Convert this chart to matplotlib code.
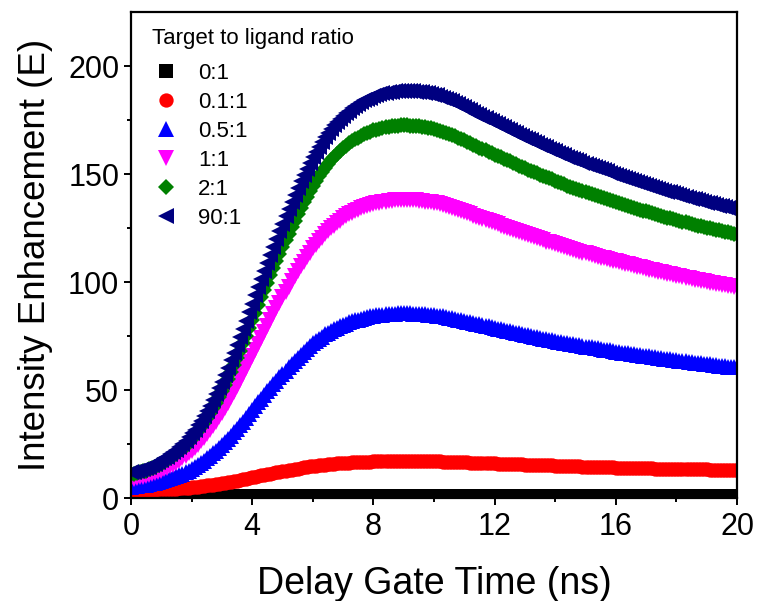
import numpy as np
import matplotlib
matplotlib.use("Agg")
import matplotlib.pyplot as plt

plt.rcParams['font.family'] = ['Liberation Sans', 'DejaVu Sans']

# delay gate times (ns), 0.1 ns steps
t = np.linspace(0, 20, 201)

e_0 = [
    1.0, 1.0, 1.0, 1.0, 1.0, 1.0, 1.0, 1.0, 1.0, 1.0,
    1.0, 1.0, 1.0, 1.0, 1.0, 1.0, 1.0, 1.0, 1.0, 1.0,
    1.0, 1.0, 1.0, 1.0, 1.0, 1.0, 1.0, 1.0, 1.0, 1.0,
    1.0, 1.0, 1.0, 1.0, 1.0, 1.0, 1.0, 1.0, 1.0, 1.0,
    1.0, 1.0, 1.0, 1.0, 1.0, 1.0, 1.0, 1.0, 1.0, 1.0,
    1.0, 1.0, 1.0, 1.0, 1.0, 1.0, 1.0, 1.0, 1.0, 1.0,
    1.0, 1.0, 1.0, 1.0, 1.0, 1.0, 1.0, 1.0, 1.0, 1.0,
    1.0, 1.0, 1.0, 1.0, 1.0, 1.0, 1.0, 1.0, 1.0, 1.0,
    1.0, 1.0, 1.0, 1.0, 1.0, 1.0, 1.0, 1.0, 1.0, 1.0,
    1.0, 1.0, 1.0, 1.0, 1.0, 1.0, 1.0, 1.0, 1.0, 1.0,
    1.0, 1.0, 1.0, 1.0, 1.0, 1.0, 1.0, 1.0, 1.0, 1.0,
    1.0, 1.0, 1.0, 1.0, 1.0, 1.0, 1.0, 1.0, 1.0, 1.0,
    1.0, 1.0, 1.0, 1.0, 1.0, 1.0, 1.0, 1.0, 1.0, 1.0,
    1.0, 1.0, 1.0, 1.0, 1.0, 1.0, 1.0, 1.0, 1.0, 1.0,
    1.0, 1.0, 1.0, 1.0, 1.0, 1.0, 1.0, 1.0, 1.0, 1.0,
    1.0, 1.0, 1.0, 1.0, 1.0, 1.0, 1.0, 1.0, 1.0, 1.0,
    1.0, 1.0, 1.0, 1.0, 1.0, 1.0, 1.0, 1.0, 1.0, 1.0,
    1.0, 1.0, 1.0, 1.0, 1.0, 1.0, 1.0, 1.0, 1.0, 1.0,
    1.0, 1.0, 1.0, 1.0, 1.0, 1.0, 1.0, 1.0, 1.0, 1.0,
    1.0, 1.0, 1.0, 1.0, 1.0, 1.0, 1.0, 1.0, 1.0, 1.0,
    1.0]

e_01 = [
    3.7, 3.75, 3.8, 3.8, 3.8, 3.85, 3.9, 3.95, 4.0, 4.05,
    4.1, 4.2, 4.3, 4.35, 4.4, 4.5, 4.6, 4.7, 4.8, 4.95,
    5.1, 5.25, 5.4, 5.55, 5.7, 5.9, 6.1, 6.3, 6.5, 6.7,
    6.9, 7.15, 7.4, 7.65, 7.9, 8.2, 8.5, 8.8, 9.1, 9.4,
    9.7, 10.0, 10.3, 10.55, 10.8, 11.1, 11.4, 11.7, 12.0, 12.25,
    12.5, 12.75, 13.0, 13.25, 13.5, 13.75, 14.0, 14.25, 14.5, 14.7,
    14.9, 15.05, 15.2, 15.4, 15.6, 15.7, 15.8, 15.95, 16.1, 16.2,
    16.3, 16.4, 16.5, 16.6, 16.7, 16.75, 16.8, 16.85, 16.9, 16.95,
    17.0, 17.05, 17.1, 17.1, 17.1, 17.15, 17.2, 17.2, 17.2, 17.2,
    17.2, 17.2, 17.2, 17.2, 17.2, 17.2, 17.2, 17.15, 17.1, 17.1,
    17.1, 17.05, 17.0, 16.95, 16.9, 16.85, 16.8, 16.75, 16.7, 16.65,
    16.6, 16.55, 16.5, 16.45, 16.4, 16.35, 16.3, 16.25, 16.2, 16.15,
    16.1, 16.05, 16.0, 15.95, 15.9, 15.85, 15.8, 15.75, 15.7, 15.65,
    15.6, 15.55, 15.5, 15.45, 15.4, 15.35, 15.3, 15.25, 15.2, 15.15,
    15.1, 15.05, 15.0, 14.95, 14.9, 14.85, 14.8, 14.75, 14.7, 14.65,
    14.6, 14.55, 14.5, 14.5, 14.5, 14.45, 14.4, 14.35, 14.3, 14.25,
    14.2, 14.2, 14.2, 14.15, 14.1, 14.05, 14.0, 14.0, 14.0, 13.95,
    13.9, 13.85, 13.8, 13.75, 13.7, 13.7, 13.7, 13.65, 13.6, 13.55,
    13.5, 13.5, 13.5, 13.45, 13.4, 13.4, 13.4, 13.35, 13.3, 13.3,
    13.3, 13.25, 13.2, 13.15, 13.1, 13.1, 13.1, 13.05, 13.0, 13.0,
    13.0]

e_05 = [
    5.4, 5.6, 5.8, 6.0, 6.1, 6.3, 6.6, 6.9, 7.2, 7.5,
    7.9, 8.3, 8.8, 9.2, 9.7, 10.2, 10.8, 11.4, 12.1, 12.8,
    13.6, 14.4, 15.3, 16.3, 17.3, 18.4, 19.5, 20.7, 21.9, 23.2,
    24.5, 25.9, 27.4, 28.9, 30.5, 32.1, 33.8, 35.5, 37.3, 39.0,
    40.8, 42.5, 44.3, 46.0, 47.8, 49.4, 51.1, 52.7, 54.4, 56.0,
    57.6, 59.1, 60.7, 62.2, 63.7, 65.1, 66.5, 67.8, 69.2, 70.4,
    71.7, 72.7, 73.8, 74.8, 75.8, 76.6, 77.5, 78.2, 79.0, 79.6,
    80.3, 80.8, 81.4, 81.8, 82.3, 82.7, 83.1, 83.4, 83.8, 84.1,
    84.4, 84.6, 84.8, 84.9, 85.1, 85.2, 85.3, 85.4, 85.5, 85.5,
    85.5, 85.5, 85.5, 85.4, 85.4, 85.3, 85.2, 85.1, 85.0, 84.8,
    84.7, 84.5, 84.3, 84.1, 83.9, 83.6, 83.3, 83.0, 82.7, 82.4,
    82.1, 81.7, 81.4, 81.0, 80.7, 80.4, 80.1, 79.8, 79.5, 79.1,
    78.8, 78.5, 78.2, 77.9, 77.6, 77.2, 76.9, 76.6, 76.3, 76.0,
    75.7, 75.4, 75.1, 74.8, 74.5, 74.2, 73.9, 73.6, 73.3, 73.0,
    72.8, 72.5, 72.3, 72.0, 71.7, 71.4, 71.2, 70.9, 70.7, 70.4,
    70.2, 70.0, 69.8, 69.5, 69.3, 69.0, 68.8, 68.6, 68.4, 68.1,
    67.9, 67.6, 67.4, 67.2, 67.0, 66.8, 66.6, 66.4, 66.2, 66.0,
    65.8, 65.6, 65.4, 65.2, 65.0, 64.8, 64.6, 64.4, 64.2, 64.0,
    63.8, 63.6, 63.5, 63.3, 63.1, 62.9, 62.7, 62.5, 62.4, 62.2,
    62.1, 61.9, 61.7, 61.5, 61.4, 61.2, 61.1, 60.9, 60.8, 60.7,
    60.6]

e_1 = [
    8.8, 9.0, 9.3, 9.6, 9.9, 10.2, 10.6, 11.1, 11.6, 12.2,
    12.8, 13.4, 14.1, 14.8, 15.6, 16.4, 17.3, 18.4, 19.5, 20.7,
    22.0, 23.3, 24.7, 26.3, 27.9, 29.6, 31.4, 33.3, 35.3, 37.4,
    39.5, 41.8, 44.2, 46.7, 49.3, 51.9, 54.6, 57.4, 60.2, 63.0,
    65.9, 68.7, 71.5, 74.3, 77.1, 79.8, 82.5, 85.1, 87.8, 90.4,
    93.0, 95.4, 97.9, 100.3, 102.8, 105.1, 107.4, 109.5, 111.6, 113.6,
    115.7, 117.4, 119.1, 120.6, 122.2, 123.6, 125.0, 126.2, 127.4, 128.5,
    129.6, 130.4, 131.3, 132.1, 132.9, 133.5, 134.2, 134.7, 135.3, 135.7,
    136.2, 136.5, 136.8, 137.0, 137.3, 137.5, 137.7, 137.8, 137.9, 137.9,
    138.0, 137.9, 137.9, 137.8, 137.8, 137.6, 137.5, 137.3, 137.2, 136.9,
    136.7, 136.4, 136.1, 135.7, 135.3, 134.9, 134.5, 134.0, 133.5, 133.0,
    132.5, 131.9, 131.4, 130.8, 130.3, 129.8, 129.3, 128.7, 128.2, 127.7,
    127.2, 126.7, 126.2, 125.7, 125.2, 124.6, 124.1, 123.6, 123.1, 122.6,
    122.2, 121.7, 121.2, 120.7, 120.3, 119.8, 119.3, 118.8, 118.4, 117.9,
    117.5, 117.0, 116.6, 116.1, 115.7, 115.3, 114.9, 114.5, 114.1, 113.7,
    113.3, 112.9, 112.6, 112.2, 111.8, 111.4, 111.0, 110.6, 110.3, 109.9,
    109.6, 109.2, 108.8, 108.5, 108.2, 107.8, 107.5, 107.1, 106.8, 106.4,
    106.1, 105.8, 105.5, 105.1, 104.8, 104.5, 104.2, 103.9, 103.6, 103.3,
    103.0, 102.7, 102.4, 102.1, 101.8, 101.5, 101.2, 100.9, 100.7, 100.4,
    100.1, 99.8, 99.6, 99.3, 99.1, 98.9, 98.7, 98.4, 98.2, 97.9,
    97.7]

e_2 = [
    11.0, 11.3, 11.6, 12.0, 12.4, 12.8, 13.3, 13.9, 14.5, 15.2,
    16.0, 16.8, 17.7, 18.6, 19.5, 20.6, 21.7, 23.0, 24.3, 25.9,
    27.5, 29.2, 30.9, 32.9, 34.9, 37.1, 39.3, 41.7, 44.1, 46.7,
    49.4, 52.3, 55.3, 58.4, 61.6, 64.9, 68.3, 71.7, 75.2, 78.8,
    82.4, 85.9, 89.4, 92.9, 96.3, 99.7, 103.1, 106.5, 109.8, 113.0,
    116.2, 119.3, 122.4, 125.5, 128.5, 131.4, 134.2, 136.9, 139.5, 142.1,
    144.6, 146.8, 148.9, 150.9, 152.8, 154.6, 156.3, 157.8, 159.3, 160.7,
    162.0, 163.1, 164.2, 165.2, 166.1, 166.9, 167.7, 168.4, 169.1, 169.7,
    170.2, 170.6, 171.0, 171.4, 171.7, 171.9, 172.1, 172.3, 172.4, 172.5,
    172.5, 172.5, 172.4, 172.3, 172.2, 172.1, 171.9, 171.7, 171.5, 171.2,
    170.9, 170.5, 170.1, 169.7, 169.2, 168.7, 168.1, 167.5, 166.9, 166.3,
    165.6, 164.9, 164.2, 163.6, 162.9, 162.3, 161.6, 161.0, 160.3, 159.7,
    159.0, 158.4, 157.7, 157.1, 156.5, 155.9, 155.2, 154.6, 153.9, 153.3,
    152.7, 152.1, 151.5, 150.9, 150.3, 149.7, 149.1, 148.6, 148.0, 147.5,
    146.9, 146.4, 145.8, 145.3, 144.7, 144.2, 143.7, 143.2, 142.6, 142.1,
    141.6, 141.2, 140.7, 140.2, 139.7, 139.3, 138.8, 138.4, 137.9, 137.5,
    137.0, 136.6, 136.1, 135.7, 135.2, 134.8, 134.3, 133.9, 133.5, 133.1,
    132.7, 132.3, 131.9, 131.5, 131.0, 130.7, 130.3, 129.9, 129.5, 129.1,
    128.7, 128.4, 128.0, 127.7, 127.3, 126.9, 126.5, 126.2, 125.9, 125.6,
    125.2, 124.9, 124.5, 124.2, 123.9, 123.6, 123.3, 123.0, 122.7, 122.5,
    122.2]

e_90 = [
    12.0, 12.3, 12.7, 13.1, 13.5, 14.0, 14.5, 15.2, 15.9, 16.7,
    17.5, 18.4, 19.3, 20.3, 21.3, 22.5, 23.7, 25.1, 26.6, 28.2,
    30.0, 31.8, 33.8, 35.9, 38.1, 40.5, 42.9, 45.5, 48.2, 51.0,
    54.0, 57.1, 60.4, 63.8, 67.3, 70.9, 74.6, 78.4, 82.2, 86.1,
    90.0, 93.9, 97.7, 101.5, 105.3, 109.0, 112.7, 116.4, 120.0, 123.5,
    127.0, 130.4, 133.8, 137.1, 140.4, 143.6, 146.7, 149.6, 152.5, 155.3,
    158.0, 160.4, 162.7, 164.9, 167.0, 169.0, 170.8, 172.5, 174.1, 175.6,
    177.0, 178.2, 179.4, 180.5, 181.5, 182.4, 183.3, 184.1, 184.8, 185.4,
    186.0, 186.5, 186.9, 187.3, 187.6, 187.9, 188.1, 188.3, 188.4, 188.5,
    188.5, 188.5, 188.4, 188.3, 188.2, 188.1, 187.9, 187.7, 187.4, 187.1,
    186.8, 186.4, 185.9, 185.4, 184.9, 184.3, 183.7, 183.1, 182.4, 181.7,
    181.0, 180.3, 179.5, 178.8, 178.0, 177.3, 176.6, 175.9, 175.2, 174.5,
    173.8, 173.1, 172.4, 171.7, 171.0, 170.3, 169.6, 168.9, 168.2, 167.6,
    166.9, 166.2, 165.6, 164.9, 164.3, 163.6, 163.0, 162.4, 161.7, 161.1,
    160.5, 159.9, 159.3, 158.7, 158.1, 157.6, 157.0, 156.4, 155.9, 155.3,
    154.8, 154.3, 153.8, 153.2, 152.7, 152.2, 151.7, 151.2, 150.7, 150.2,
    149.7, 149.2, 148.7, 148.3, 147.8, 147.3, 146.8, 146.4, 145.9, 145.5,
    145.0, 144.5, 144.1, 143.6, 143.2, 142.8, 142.4, 141.9, 141.5, 141.1,
    140.7, 140.3, 139.9, 139.5, 139.1, 138.7, 138.3, 138.0, 137.6, 137.2,
    136.8, 136.5, 136.1, 135.8, 135.4, 135.1, 134.8, 134.4, 134.1, 133.8,
    133.5]

series = [
    ('0:1', e_0, 's', '#000000', 9.5),
    ('0.1:1', e_01, 'o', '#ff0000', 10.3),
    ('0.5:1', e_05, '^', '#0000ff', 11.0),
    ('1:1', e_1, 'v', '#ff00ff', 11.0),
    ('2:1', e_2, 'D', '#008000', 8.2),
    ('90:1', e_90, '<', '#000080', 11.0),
]

fig = plt.figure(figsize=(7.57, 6.01), dpi=100)
ax = fig.add_axes([0.173, 0.171, 0.8006, 0.809])

for lab, y, mk, col, ms in series:
    ax.plot(t, y, linestyle='none', marker=mk, color=col, markersize=ms,
            markeredgewidth=0, label=lab)

ax.set_xlim(0, 20)
ax.set_ylim(0, 225)
ax.set_xticks([0, 4, 8, 12, 16, 20])
ax.set_xticks(np.arange(2, 20, 4), minor=True)
ax.set_yticks([0, 50, 100, 150, 200])
ax.set_yticks([25, 75, 125, 175], minor=True)

for s in ax.spines.values():
    s.set_linewidth(1.6)
ax.tick_params(which='major', direction='out', length=5, width=1.4,
               labelsize=22, top=False, right=False)
ax.tick_params(axis='x', which='major', pad=5)
ax.tick_params(which='minor', direction='out', length=3, width=1.4,
               top=False, right=False)

ax.set_xlabel('Delay Gate Time (ns)', fontsize=27, labelpad=17)
ax.set_ylabel('Intensity Enhancement (E)', fontsize=26.5, labelpad=11)

# legend title drawn separately so the gap under it can be set
ax.text(0.035, 0.946, 'Target to ligand ratio', transform=ax.transAxes,
        fontsize=16, ha='left', va='center')
ax.legend(loc='upper left', bbox_to_anchor=(0.025, 0.914), frameon=False,
          fontsize=16, numpoints=1, handlelength=1.0, handletextpad=0.94,
          labelspacing=0.36, borderaxespad=0.0)

fig.savefig('out.png', dpi=100)
